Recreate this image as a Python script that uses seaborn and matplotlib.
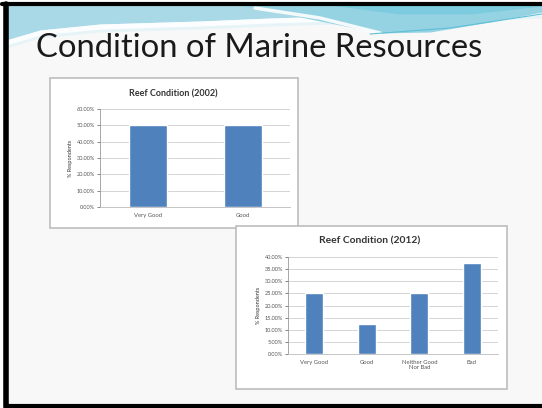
import numpy as np
import pandas as pd
import matplotlib
matplotlib.use("Agg")
import matplotlib.pyplot as plt
import seaborn as sns
from matplotlib.patches import Rectangle
from matplotlib.ticker import FuncFormatter, MultipleLocator

# ---- data ----
slide_title = "Condition of Marine Resources"
title_2002 = "Reef Condition (2002)"
cats_2002 = ["Very Good", "Good"]
vals_2002 = [0.50, 0.50]
title_2012 = "Reef Condition (2012)"
cats_2012 = ["Very Good", "Good", "Neither Good\nNor Bad", "Bad"]
vals_2012 = [0.25, 0.125, 0.25, 0.375]
ylabel = "% Respondents"

sns.set_theme(style="white")
plt.rcParams["font.family"] = ["Lato", "DejaVu Sans"]

BAR = "#4F81BD"
fig = plt.figure(figsize=(5.42, 4.08), dpi=100)
fig.patch.set_facecolor("white")

# background / slide decoration axis in pixel coords
bg = fig.add_axes([0, 0, 1, 1], zorder=0)
bg.set_xlim(0, 542)
bg.set_ylim(408, 0)
bg.axis("off")
bg.add_patch(Rectangle((6, 4), 540, 402, facecolor="#f8f8f8", edgecolor="none"))
xs = np.linspace(6, 542, 400)
top = np.full_like(xs, 5)
# left light-blue band
c1 = np.interp(xs, [6, 40, 100, 200, 270, 400, 542], [40, 30, 24, 21, 18, 14, 10])
bg.fill_between(xs, top, c1 + 8, color="#e6f4f8", lw=0)
bg.fill_between(xs, top, c1, color="#a9d9e7", lw=0)
bg.fill_between(xs, c1, c1 + 5, color="white", lw=0, alpha=0.9)
# right cyan band
c2 = np.interp(xs, [240, 300, 380, 430, 490, 542], [5, 17, 33, 32, 22, 12])
bg.fill_between(xs, top, np.maximum(c2, 5), color="#95d3e3", lw=0)
c3 = np.interp(xs, [330, 400, 470, 542], [5, 14, 14, 6])
bg.fill_between(xs, top, np.maximum(c3, 5), color="#7ccbdf", lw=0)
# white streak
sx = np.linspace(255, 380, 50)
bg.plot(sx, np.interp(sx, [255, 320, 380], [8, 18, 33]), color="white", lw=2.5, alpha=0.9)
bg.plot(xs[xs > 370], np.interp(xs[xs > 370], [370, 450, 542], [34, 28, 14]), color="#5fbfd6", lw=0.8)
# black border
bg.plot([2, 542], [4, 4], color="black", lw=3)
bg.plot([6, 6], [4, 407], color="black", lw=4)
bg.plot([6, 542], [405.5, 405.5], color="black", lw=3)
# chart boxes
bg.add_patch(Rectangle((50, 78), 248, 150, facecolor="white", edgecolor="#bdbdbd", lw=1.2, zorder=2))
bg.add_patch(Rectangle((236, 226), 271, 163, facecolor="white", edgecolor="#bdbdbd", lw=1.2, zorder=4))
bg.text(259, 48, slide_title, fontsize=23.6, ha="center", va="center", color="#1a1a1a", zorder=6,
        family=["Lato", "DejaVu Sans"])
bg.text(173, 94, title_2002, fontsize=6.5, fontweight="bold", ha="center", va="center", color="#333333", zorder=3)
bg.text(370, 241, title_2012, fontsize=7.4, fontweight="bold", ha="center", va="center", color="#333333", zorder=5)

pct = FuncFormatter(lambda v, p: f"{v*100:.2f}%")

def draw(ax, cats, vals, ymax, step, width):
    df = pd.DataFrame({"cat": cats, "val": vals})
    sns.barplot(data=df, x="cat", y="val", color=BAR, saturation=1, width=width, ax=ax, zorder=3)
    ax.set_ylim(0, ymax)
    ax.yaxis.set_major_locator(MultipleLocator(step))
    ax.yaxis.set_major_formatter(pct)
    ax.grid(axis="y", color="#d4d4d4", lw=0.7, zorder=0)
    ax.set_axisbelow(True)
    ax.set_xlabel("")
    ax.set_ylabel(ylabel, fontsize=4, color="#333333", labelpad=3)
    ax.tick_params(axis="y", labelsize=4, colors="#555555", length=2, width=0.5, pad=1.5, left=True)
    ax.tick_params(axis="x", labelsize=4.2, colors="#555555", length=0, pad=4)
    for s in ["top", "right"]:
        ax.spines[s].set_visible(False)
    ax.spines["left"].set_color("#999999")
    ax.spines["left"].set_linewidth(0.6)
    ax.spines["bottom"].set_color("#bbbbbb")
    ax.spines["bottom"].set_linewidth(0.6)
    ax.set_facecolor("none")

ax1 = fig.add_axes([100/542, 1-207/408, 190/542, 98/408], zorder=3)
draw(ax1, cats_2002, vals_2002, 0.6, 0.1, 0.4)
ax2 = fig.add_axes([288/542, 1-354/408, 210/542, 97/408], zorder=5)
draw(ax2, cats_2012, vals_2012, 0.4, 0.05, 0.35)

fig.savefig("out.png", dpi=100)
